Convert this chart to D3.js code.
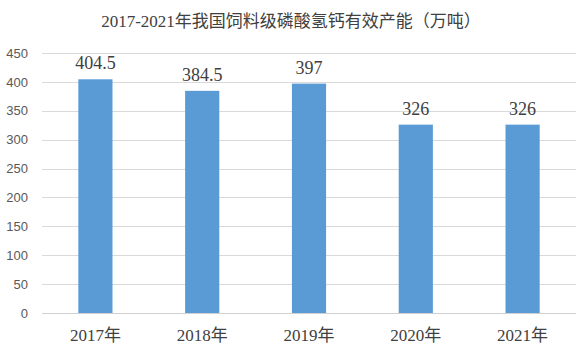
<!DOCTYPE html>
<html>
<head>
<meta charset="utf-8">
<script src="https://cdn.jsdelivr.net/npm/d3@7"></script>
<style>
  body { margin: 0; background: #fff; }
</style>
</head>
<body>
<div id="chart"></div>
<script>
var years = ["2017年", "2018年", "2019年", "2020年", "2021年"];
var capacity = [404.5, 384.5, 397, 326, 326];
var yTicks = [0, 50, 100, 150, 200, 250, 300, 350, 400, 450];

var w = 584, h = 353;
var plotLeft = 42, plotRight = 576, plotTop = 53, plotBottom = 313;
var serif = "'Liberation Serif', 'DejaVu Serif', 'Noto Sans CJK SC', serif";

var svg = d3.select("#chart").append("svg").attr("width", w).attr("height", h);

var x = d3.scaleBand().domain(years).range([plotLeft, plotRight]).paddingInner(0.68).paddingOuter(0.34);
var y = d3.scaleLinear().domain([0, 450]).range([plotBottom, plotTop]);

// title
svg.append("text").text("2017-2021年我国饲料级磷酸氢钙有效产能（万吨）")
  .attr("x", 291).attr("y", 27).attr("text-anchor", "middle")
  .style("font-family", serif).style("font-size", "17px").style("fill", "#404040");

// grid
svg.append("g").selectAll("line").data(yTicks).join("line")
  .attr("x1", plotLeft).attr("x2", plotRight)
  .attr("y1", function(d){ return Math.round(y(d)) + 0.5; })
  .attr("y2", function(d){ return Math.round(y(d)) + 0.5; })
  .style("stroke", function(d){ return d === 0 ? "#d0d0d0" : "#d9d9d9"; })
  .style("stroke-width", 1);

// y axis labels
var yAxis = d3.axisLeft(y).tickValues(yTicks).tickSize(0).tickPadding(0);
var ga = svg.append("g").attr("transform", "translate(28,0)").call(yAxis);
ga.select(".domain").remove();
ga.selectAll("text").style("font-family", "'Liberation Sans', Arial, sans-serif")
  .style("font-size", "13px").style("fill", "#595959");

// bars
svg.append("g").selectAll("rect").data(capacity).join("rect")
  .attr("x", function(d, i){ return x(years[i]); })
  .attr("y", function(d){ return y(d); })
  .attr("width", x.bandwidth())
  .attr("height", function(d){ return y(0) - y(d); })
  .style("fill", "#5b9bd5");

// value labels
svg.append("g").selectAll("text").data(capacity).join("text")
  .text(function(d){ return d; })
  .attr("x", function(d, i){ return x(years[i]) + x.bandwidth() / 2; })
  .attr("y", function(d){ return y(d) - 10; })
  .attr("text-anchor", "middle")
  .style("font-family", serif).style("font-size", "18px").style("fill", "#404040");

// x axis labels
var xAxis = d3.axisBottom(x).tickSize(0).tickPadding(0);
var gx = svg.append("g").attr("transform", "translate(0,329)").call(xAxis);
gx.select(".domain").remove();
gx.selectAll("text").style("font-family", serif).style("font-size", "17px").style("fill", "#404040");
</script>
</body>
</html>
